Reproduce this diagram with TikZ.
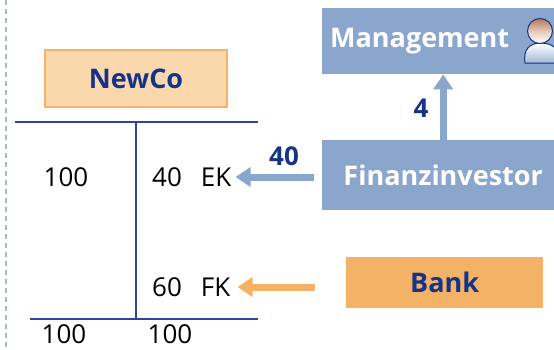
\documentclass[tikz,border=0pt]{standalone}
\usepackage{fontspec}
\setmainfont{Open Sans}
\usepackage{xcolor}
\usepackage{tikz}
\usetikzlibrary{arrows.meta}

\definecolor{fiblue}{RGB}{139,166,204}
\definecolor{darkblue}{RGB}{22,51,135}
\definecolor{linblue}{RGB}{45,70,155}
\definecolor{bankorange}{RGB}{244,178,102}
\definecolor{newcofill}{RGB}{250,216,174}
\definecolor{dashblue}{RGB}{160,185,220}
\definecolor{hairbrown}{RGB}{185,120,85}

\begin{document}
\begin{tikzpicture}[x=1pt, y=-1pt,
	boxfont/.style={font=\fontsize{27}{30}\selectfont\bfseries},
	bluebox/.style={boxfont, fill=fiblue, text=white, inner sep=0pt},
	numtext/.style={text=black, inner sep=0pt, font=\fontsize{26}{30}\selectfont},
	flowlabel/.style={text=darkblue, inner sep=0pt, font=\fontsize{26}{30}\selectfont\bfseries},
	tline/.style={draw=linblue, line width=1.3pt},
	fatarrow/.style={line width=7pt, -{Triangle[length=15pt,width=19pt]}}]
	\useasboundingbox (0,0) rectangle (554,349);
	\draw[dashblue, line width=1.5pt, dash pattern=on 5pt off 4pt] (6,0) -- (6,349);

	% Bilanz NewCo
	\node (newco) [boxfont, draw=bankorange, line width=1.2pt, fill=newcofill, text=darkblue, minimum width=182pt, minimum height=57pt] at (136,78.5) {NewCo};
	\coordinate (tl) at (15,122);
	\coordinate (tm) at (136,122);
	\coordinate (tr) at (258,122);
	\coordinate (bl) at (30,319);
	\coordinate (bm) at (136,319);
	\coordinate (br) at (258,319);
	\draw[tline] (tl) -- (tr);
	\draw[tline] (tm) -- (bm);
	\draw[tline] (bl) -- (br);

	\node (aktiva) [numtext] at (66,177) {100};
	\node (ek) [numtext, anchor=west] at (152,177) {40\hspace{19pt}EK};
	\node (fk) [numtext, anchor=west] at (152,287) {60\hspace{19pt}FK};
	\node (sumaktiva) [numtext] at (64,334) {100};
	\node (sumpassiva) [numtext] at (170,334) {100};

	% Kapitalgeber
	\node (mgmt) [bluebox, anchor=north west, minimum width=232pt, minimum height=66pt, text width=216pt, align=left, inner xsep=8pt] at (322,8) {Management};
	\node (fin) [bluebox, anchor=north west, minimum width=232pt, minimum height=70pt] at (322,140) {\hspace{10pt}Finanzinvestor};
	\node (bank) [boxfont, fill=bankorange, text=darkblue, anchor=north west, minimum width=197pt, minimum height=51pt] at (346,257) {Bank};

	\draw[fatarrow, fiblue] ([xshift=5pt]fin.north) -- ([xshift=5pt]mgmt.south);
	\draw[fatarrow, fiblue, shorten <=8pt, shorten >=4pt] (fin.west |- ek.east) -- (ek.east);
	\draw[fatarrow, bankorange, shorten <=31pt, shorten >=7pt] (bank.west |- fk.east) -- (fk.east);
	\node (ekbetrag) [flowlabel] at (284,156) {40};
	\node (mgmtbetrag) [flowlabel] at (421,108) {4};

	% Person
	\begin{scope}
		\clip (0,0) rectangle (554,349);
		\shade[top color=white, bottom color=fiblue!80, draw=darkblue, line width=1pt] (525,63) .. controls (523,50) and (529,43) .. (541,43) .. controls (553,43) and (561,50) .. (559,63) -- cycle;
		\shade[top color=hairbrown, bottom color=white, middle color=white!60!hairbrown, draw=darkblue, line width=1pt] (540,31) circle (12.5pt);
	\end{scope}
\end{tikzpicture}
\end{document}
